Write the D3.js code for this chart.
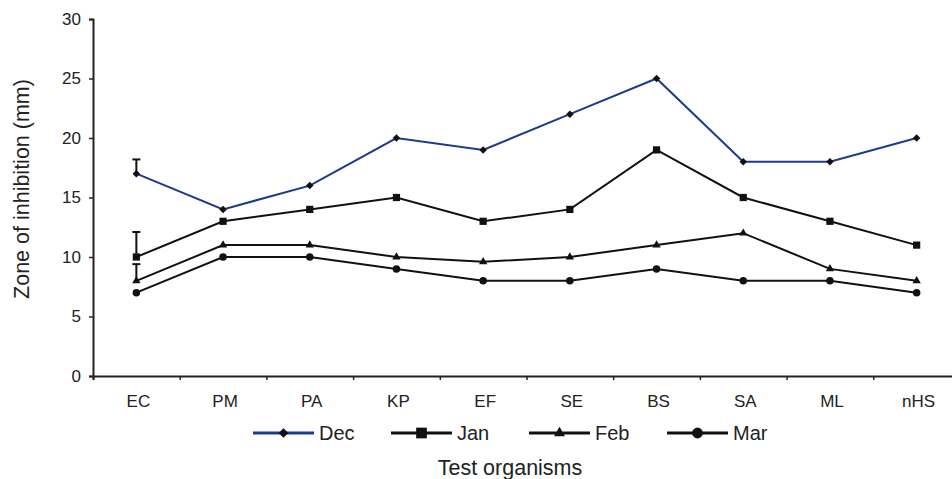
<!DOCTYPE html>
<html>
<head>
<meta charset="utf-8">
<script src="https://cdn.jsdelivr.net/npm/d3@7"></script>
<style>
  body { margin: 0; background: #fff; }
  text { font-family: "Liberation Sans", Arial, sans-serif; fill: #222; }
</style>
</head>
<body>
<div id="chart"></div>
<script>
const width = 952;
const height = 479;

const organisms = ["EC", "PM", "PA", "KP", "EF", "SE", "BS", "SA", "ML", "nHS"];
const months = ["Dec", "Jan", "Feb", "Mar"];
const decValues = [17, 14, 16, 20, 19, 22, 25, 18, 18, 20];
const janValues = [10, 13, 14, 15, 13, 14, 19, 15, 13, 11];
const febValues = [8, 11, 11, 10, 9.6, 10, 11, 12, 9, 8];
const marValues = [7, 10, 10, 9, 8, 8, 9, 8, 8, 7];
// plus-only error bars, visible on the first organism only
const ecErrors = [1.2, 2.1, 1.4, 0];
const yTicks = [0, 5, 10, 15, 20, 25, 30];

const series = [
    { name: "Dec", values: decValues, color: "#1c3a8e", symbol: d3.symbolDiamond2, size: 36, legendSize: 60 },
    { name: "Jan", values: janValues, color: "#111", symbol: d3.symbolSquare, size: 52, legendSize: 115 },
    { name: "Feb", values: febValues, color: "#111", symbol: d3.symbolTriangle, size: 30, legendSize: 52 },
    { name: "Mar", values: marValues, color: "#111", symbol: d3.symbolCircle, size: 44, legendSize: 92 }
];

const svg = d3.select("#chart")
    .append("svg")
    .attr("width", width)
    .attr("height", height);

const xScale = d3.scaleBand()
    .domain(organisms)
    .range([93, 960])
    .padding(0);

const xEdges = d3.scaleLinear()
    .domain([0, organisms.length])
    .range([93, 960]);

const yScale = d3.scaleLinear()
    .domain([0, 30])
    .range([376, 19]);

const cx = d => xScale(d) + xScale.bandwidth() / 2;

// y axis
const yAxis = d3.axisLeft(yScale).tickValues(yTicks).tickSize(4).tickPadding(8);
const yAxisGroup = svg.append("g")
    .attr("transform", "translate(93,0)")
    .call(yAxis);
yAxisGroup.select(".domain").attr("stroke", "#222").attr("stroke-width", 2);
yAxisGroup.selectAll(".tick line").attr("stroke", "#222").attr("stroke-width", 1.5);
yAxisGroup.selectAll(".tick text").style("font-size", "17px").attr("fill", "#222");

// x axis: ticks on category boundaries, labels at centers
const xTickAxis = d3.axisBottom(xEdges).ticks(organisms.length).tickSize(4).tickFormat("");
const xAxisGroup = svg.append("g")
    .attr("transform", "translate(0,376)")
    .call(xTickAxis);
xAxisGroup.select(".domain").attr("stroke", "#222").attr("stroke-width", 2);
xAxisGroup.selectAll(".tick line").attr("stroke", "#222").attr("stroke-width", 1.5);

const xLabelAxis = d3.axisBottom(xScale).tickSize(0).tickPadding(19);
const xLabelGroup = svg.append("g")
    .attr("transform", "translate(2,376)")
    .call(xLabelAxis);
xLabelGroup.select(".domain").remove();
xLabelGroup.selectAll(".tick text").style("font-size", "17px").attr("fill", "#222");

// axis titles
svg.append("text")
    .attr("transform", "translate(29,189) rotate(-90)")
    .attr("text-anchor", "middle")
    .style("font-size", "21.5px")
    .text("Zone of inhibition (mm)");

svg.append("text")
    .attr("x", 510)
    .attr("y", 475)
    .attr("text-anchor", "middle")
    .style("font-size", "21.5px")
    .text("Test organisms");

// error bars
series.forEach((s, i) => {
    if (!ecErrors[i]) return;
    const x = cx(organisms[0]);
    const yTop = yScale(s.values[0] + ecErrors[i]);
    svg.append("line")
        .attr("x1", x).attr("x2", x)
        .attr("y1", yScale(s.values[0])).attr("y2", yTop)
        .attr("stroke", "#111").attr("stroke-width", 2);
    svg.append("line")
        .attr("x1", x - 4).attr("x2", x + 4)
        .attr("y1", yTop).attr("y2", yTop)
        .attr("stroke", "#111").attr("stroke-width", 2);
});

const line = d3.line()
    .x((d, i) => cx(organisms[i]))
    .y(d => yScale(d));

series.forEach(s => {
    svg.append("path")
        .datum(s.values)
        .attr("fill", "none")
        .attr("stroke", s.color)
        .attr("stroke-width", 2)
        .attr("d", line);

    svg.append("g")
        .selectAll("path")
        .data(s.values)
        .enter()
        .append("path")
        .attr("transform", (d, i) => `translate(${cx(organisms[i])},${yScale(d)})`)
        .attr("d", d3.symbol().type(s.symbol).size(s.size))
        .attr("fill", "#111");
});

// legend
const legend = svg.selectAll(".legend")
    .data(series)
    .enter().append("g")
    .attr("class", "legend")
    .attr("transform", (d, i) => `translate(${253 + i * 138},433)`);

legend.append("line")
    .attr("x1", 0).attr("x2", 61)
    .attr("y1", 0).attr("y2", 0)
    .attr("stroke", d => d.color)
    .attr("stroke-width", 3);

legend.append("path")
    .attr("transform", "translate(30.5,0)")
    .attr("d", d => d3.symbol().type(d.symbol).size(d.legendSize)())
    .attr("fill", "#111");

legend.append("text")
    .attr("x", 66)
    .attr("y", 6.5)
    .style("font-size", "20px")
    .text(d => d.name);
</script>
</body>
</html>
